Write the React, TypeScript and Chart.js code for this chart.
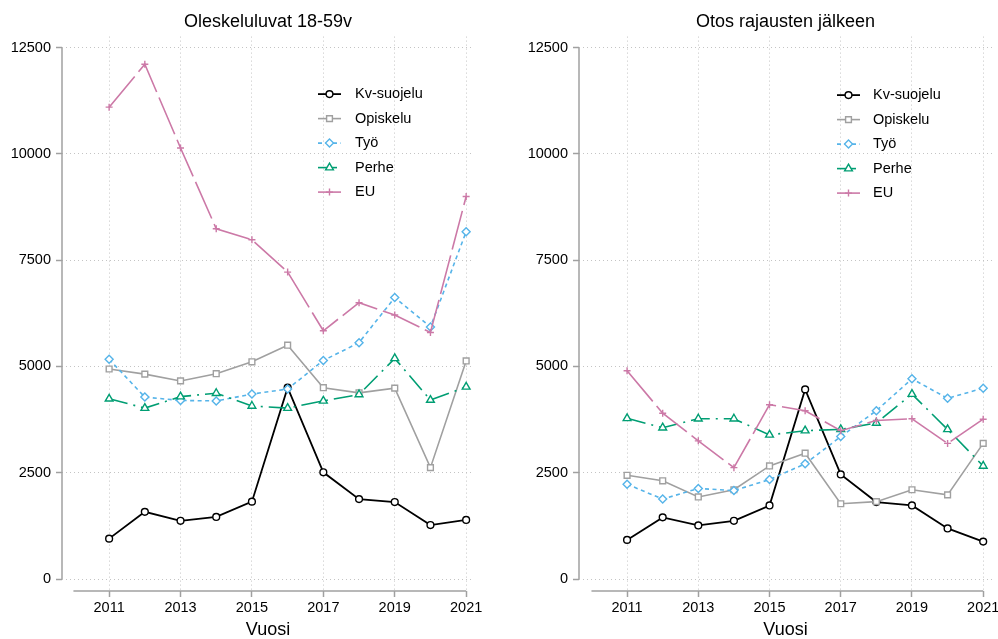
import React, { useEffect, useRef } from 'react';
import { Chart, registerables } from 'chart.js';

Chart.register(...registerables);

const FONT = "'Liberation Sans', Arial, Helvetica, sans-serif";

// ---------- data ----------
const years = [2011, 2012, 2013, 2014, 2015, 2016, 2017, 2018, 2019, 2020, 2021];
const xTickYears = [2011, 2013, 2015, 2017, 2019, 2021];
const yTickValues = [0, 2500, 5000, 7500, 10000, 12500];
const seriesNames = ['Kv-suojelu', 'Opiskelu', 'Työ', 'Perhe', 'EU'];
const panelTitles = ['Oleskeluluvat 18-59v', 'Otos rajausten jälkeen'];
const xAxisTitle = 'Vuosi';

const leftKv = [950, 1580, 1370, 1460, 1820, 4500, 2510, 1880, 1810, 1270, 1390];
const leftOpiskelu = [4940, 4820, 4660, 4830, 5110, 5500, 4500, 4380, 4490, 2620, 5130];
const leftTyo = [5170, 4280, 4200, 4190, 4350, 4470, 5140, 5560, 6620, 5930, 8170];
const leftPerhe = [4240, 4020, 4290, 4370, 4070, 4020, 4190, 4340, 5190, 4210, 4520];
const leftEU = [11100, 12110, 10140, 8240, 7980, 7220, 5840, 6500, 6210, 5800, 9000];

const rightKv = [920, 1450, 1260, 1370, 1730, 4460, 2460, 1810, 1730, 1190, 880];
const rightOpiskelu = [2440, 2310, 1930, 2100, 2660, 2960, 1770, 1820, 2100, 1980, 3190];
const rightTyo = [2230, 1880, 2130, 2080, 2340, 2710, 3350, 3960, 4710, 4250, 4490];
const rightPerhe = [3780, 3560, 3770, 3770, 3390, 3490, 3520, 3670, 4350, 3520, 2660];
const rightEU = [4900, 3900, 3250, 2620, 4100, 3960, 3490, 3730, 3770, 3190, 3760];

// ---------- styles ----------
type SeriesStyle = {
  color: string;
  dash: number[];
  pointStyle: string;
  radius: number;
  width: number;
};
const seriesStyles: SeriesStyle[] = [
  { color: '#000000', dash: [], pointStyle: 'circle', radius: 3.4, width: 1.8 },
  { color: '#a0a0a0', dash: [], pointStyle: 'rect', radius: 4.1, width: 1.6 },
  { color: '#56b4e9', dash: [4, 3.5], pointStyle: 'rectRot', radius: 4.0, width: 1.6 },
  { color: '#009e73', dash: [19, 6, 2, 6], pointStyle: 'triangle', radius: 4.5, width: 1.6 },
  { color: '#cc79a7', dash: [40, 6], pointStyle: 'cross', radius: 3.5, width: 1.6 },
];

function drawMarker(ctx: CanvasRenderingContext2D, st: SeriesStyle, x: number, y: number) {
  const r = st.radius;
  ctx.save();
  ctx.setLineDash([]);
  ctx.strokeStyle = st.color;
  ctx.fillStyle = '#ffffff';
  ctx.lineWidth = 1.4;
  ctx.beginPath();
  if (st.pointStyle === 'circle') {
    ctx.arc(x, y, r, 0, Math.PI * 2);
    ctx.fill();
    ctx.stroke();
  } else if (st.pointStyle === 'rect') {
    const s = r * Math.SQRT1_2;
    ctx.rect(x - s, y - s, 2 * s, 2 * s);
    ctx.fill();
    ctx.stroke();
  } else if (st.pointStyle === 'rectRot') {
    ctx.moveTo(x, y - r);
    ctx.lineTo(x + r, y);
    ctx.lineTo(x, y + r);
    ctx.lineTo(x - r, y);
    ctx.closePath();
    ctx.fill();
    ctx.stroke();
  } else if (st.pointStyle === 'triangle') {
    const a = (2 * Math.PI) / 3;
    ctx.moveTo(x, y - r);
    ctx.lineTo(x + Math.sin(a) * r, y - Math.cos(a) * r);
    ctx.lineTo(x + Math.sin(2 * a) * r, y - Math.cos(2 * a) * r);
    ctx.closePath();
    ctx.fill();
    ctx.stroke();
  } else {
    ctx.moveTo(x, y - r);
    ctx.lineTo(x, y + r);
    ctx.moveTo(x - r, y);
    ctx.lineTo(x + r, y);
    ctx.stroke();
  }
  ctx.restore();
}

const stataAxesPlugin = {
  id: 'stataAxes',
  beforeDatasetsDraw(chart: any) {
    const { ctx, chartArea, scales } = chart;
    const xs = scales.x;
    const ys = scales.y;
    ctx.save();
    ctx.strokeStyle = '#a0a0a0';
    ctx.lineWidth = 1.5;
    ctx.setLineDash([]);
    ctx.beginPath();
    ctx.moveTo(chartArea.left, ys.getPixelForValue(yTickValues[0]));
    ctx.lineTo(chartArea.left, ys.getPixelForValue(yTickValues[yTickValues.length - 1]));
    ctx.stroke();
    ctx.beginPath();
    ctx.moveTo(xs.getPixelForValue(years[0] - 1), chartArea.bottom);
    ctx.lineTo(xs.getPixelForValue(years[years.length - 1]), chartArea.bottom);
    ctx.stroke();
    ctx.restore();
  },
};

const insideLegendPlugin = {
  id: 'insideLegend',
  afterDatasetsDraw(chart: any, _args: any, opts: any) {
    const { ctx, chartArea } = chart;
    const x0 = chartArea.left + opts.dx;
    chart.data.datasets.forEach((ds: any, i: number) => {
      const st = seriesStyles[i];
      const y = chartArea.top + opts.dy + i * 24.5;
      ctx.save();
      ctx.strokeStyle = st.color;
      ctx.lineWidth = st.width;
      ctx.setLineDash(st.dash);
      ctx.beginPath();
      ctx.moveTo(x0, y);
      ctx.lineTo(x0 + 23, y);
      ctx.stroke();
      ctx.restore();
      drawMarker(ctx, st, x0 + 11.5, y);
      ctx.save();
      ctx.fillStyle = '#000';
      ctx.font = `14.5px ${FONT}`;
      ctx.textBaseline = 'middle';
      ctx.textAlign = 'left';
      ctx.fillText(ds.label, x0 + opts.textGap, y);
      ctx.restore();
    });
  },
};

type PanelSpec = {
  title: string;
  series: number[][];
  yAxisWidth: number;
  padRight: number;
  xMin: number;
  xMax: number;
  legendDx: number;
  legendDy: number;
  textGap: number;
};

function buildConfig(p: PanelSpec): any {
  const gridCommon = {
    color: '#c4c4c4',
    lineWidth: 1,
    tickLength: 6,
    tickColor: '#a0a0a0',
    tickWidth: 1.5,
    tickBorderDash: [],
    drawOnChartArea: true,
  };
  return {
    type: 'line',
    data: {
      datasets: p.series.map((vals, i) => {
        const st = seriesStyles[i];
        return {
          label: seriesNames[i],
          data: years.map((yr, j) => ({ x: yr, y: vals[j] })),
          borderColor: st.color,
          borderWidth: st.width,
          borderDash: st.dash,
          tension: 0,
          fill: false,
          pointStyle: st.pointStyle,
          pointRadius: st.radius,
          pointBorderWidth: 1.4,
          pointBorderColor: st.color,
          pointBackgroundColor: '#ffffff',
          order: seriesNames.length - i,
        };
      }),
    },
    options: {
      responsive: false,
      animation: false,
      events: [],
      layout: { padding: { left: 0, right: p.padRight, top: 0, bottom: 0 } },
      plugins: {
        legend: { display: false },
        tooltip: { enabled: false },
        title: {
          display: true,
          text: p.title,
          fullSize: false,
          color: '#000',
          font: { size: 18, family: FONT, weight: 'normal' },
          padding: { top: 11, bottom: 4 },
        },
        insideLegend: { dx: p.legendDx, dy: p.legendDy, textGap: p.textGap },
      },
      scales: {
        x: {
          type: 'linear',
          min: p.xMin,
          max: p.xMax,
          afterBuildTicks: (s: any) => {
            s.ticks = xTickYears.map((v) => ({ value: v }));
          },
          afterFit: (s: any) => {
            s.height = 48;
            s.paddingLeft = 0;
            s.paddingRight = 0;
          },
          grid: gridCommon,
          border: { display: false, dash: [1, 3] },
          ticks: {
            color: '#000',
            font: { size: 14.5, family: FONT },
            padding: 2,
            maxRotation: 0,
            autoSkip: false,
            callback: (v: any) => String(v),
          },
          title: {
            display: true,
            text: xAxisTitle,
            color: '#000',
            font: { size: 18, family: FONT },
            padding: { top: 0, bottom: -2 },
          },
        },
        y: {
          type: 'linear',
          min: -282,
          max: 12760,
          afterBuildTicks: (s: any) => {
            s.ticks = yTickValues.map((v) => ({ value: v }));
          },
          afterFit: (s: any) => {
            s.width = p.yAxisWidth;
            s.paddingTop = 0;
            s.paddingBottom = 0;
          },
          grid: gridCommon,
          border: { display: false, dash: [1, 3] },
          ticks: {
            color: '#000',
            font: { size: 14.5, family: FONT },
            padding: 5,
            autoSkip: false,
            callback: (v: any) => String(v),
          },
        },
      },
    },
    plugins: [stataAxesPlugin, insideLegendPlugin],
  };
}

const panels: PanelSpec[] = [
  {
    title: panelTitles[0],
    series: [leftKv, leftOpiskelu, leftTyo, leftPerhe, leftEU],
    yAxisWidth: 62,
    padRight: 25,
    xMin: 2009.68,
    xMax: 2021.22,
    legendDx: 256,
    legendDy: 57.5,
    textGap: 37,
  },
  {
    title: panelTitles[1],
    series: [rightKv, rightOpiskelu, rightTyo, rightPerhe, rightEU],
    yAxisWidth: 80,
    padRight: 3,
    xMin: 2009.65,
    xMax: 2021.25,
    legendDx: 258,
    legendDy: 58.5,
    textGap: 36,
  },
];

function Panel({ spec, left }: { spec: PanelSpec; left: number }) {
  const ref = useRef<HTMLCanvasElement | null>(null);
  useEffect(() => {
    if (!ref.current) return;
    const chart = new Chart(ref.current, buildConfig(spec));
    return () => chart.destroy();
  }, [spec]);
  return (
    <canvas
      ref={ref}
      width={499}
      height={639}
      style={{ position: 'absolute', left, top: 0, width: 499, height: 639, display: 'block' }}
    />
  );
}

export default function App() {
  useEffect(() => {
    document.body.style.margin = '0';
  }, []);
  return (
    <div
      style={{
        position: 'absolute',
        left: 0,
        top: 0,
        width: 998,
        height: 639,
        background: '#ffffff',
        overflow: 'hidden',
      }}
    >
      <Panel spec={panels[0]} left={0} />
      <Panel spec={panels[1]} left={499} />
    </div>
  );
}
